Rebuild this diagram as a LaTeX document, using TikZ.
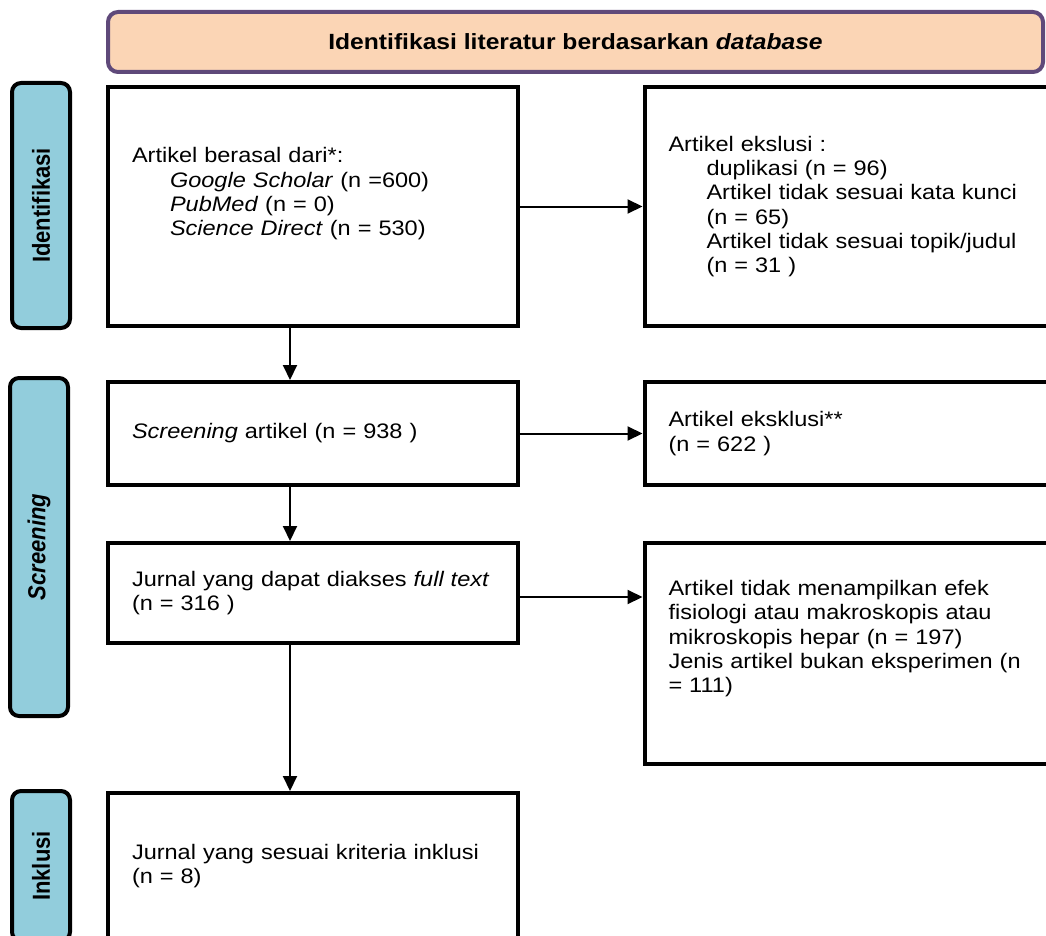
\documentclass[tikz,border=0pt]{standalone}
\usepackage{fontspec}
\setmainfont{Liberation Sans}[FakeStretch=1.12]
\newfontfamily\sidefont{Liberation Sans}
\usetikzlibrary{arrows.meta}

\definecolor{headfill}{HTML}{FBD5B5}
\definecolor{headline}{HTML}{5F497A}
\definecolor{sidefill}{HTML}{92CDDC}

\newcommand{\boxfont}{\fontsize{21}{24.2}\selectfont}
\newcommand{\lowpad}[1]{\rule[-#1]{0pt}{#1}}
\newcommand{\ind}{\hspace*{38pt}}
\newcommand{\sidetext}[1]{\scalebox{1}[1.12]{#1}}

\begin{document}
\begin{tikzpicture}[
  x=1pt, y=-1pt,
  box/.style={
      rectangle,
      draw,
      line width=4pt,
      align=left,
      inner xsep=24pt,
      text width=362pt,
      font=\boxfont,
      fill=white
  },
  exclbox/.style={
      box,
      text width=378pt
  },
  side/.style={
      rectangle,
      draw,
      line width=4pt,
      rounded corners=9pt,
      fill=sidefill,
      rotate=90,
      minimum height=58pt,
      inner sep=0pt,
      font=\sidefont\fontsize{22}{26}\selectfont\bfseries
  },
  head/.style={
      rectangle,
      draw=headline,
      line width=4pt,
      rounded corners=10pt,
      fill=headfill,
      minimum width=935pt,
      minimum height=60pt,
      font=\fontsize{22}{26}\selectfont\bfseries
  },
  arrow/.style={
      -{Triangle[length=15pt,width=14pt]},
      line width=2pt
  }
]

\clip (0,0) rectangle (1046,936);

% ==================================================
% Header
% ==================================================

\node[head] (head) at (575.5,42)
      {Identifikasi literatur berdasarkan \textit{database}};

% ==================================================
% Side labels
% ==================================================

\node[side, minimum width=245pt] (sideid) at (41,205.5)
      {\sidetext{Identifikasi}};

\node[side, minimum width=338pt] (sidescr) at (39,547)
      {\sidetext{\textit{Screening}}};

\node[side, minimum width=150pt] (sideinc) at (41,866)
      {\sidetext{Inklusi}};

% ==================================================
% Main column
% ==================================================

\node[box, minimum height=239pt] (src) at (313,206.5)
      {Artikel berasal dari*:\\
       \ind\textit{Google Scholar} (n =600)\\
       \ind\textit{PubMed} (n = 0)\\
       \ind\textit{Science Direct} (n = 530)\lowpad{30pt}};

\node[box, minimum height=103pt] (scr) at (313,433.5)
      {\textit{Screening} artikel (n = 938 )};

\node[box, minimum height=100pt] (full) at (313,593)
      {Jurnal yang dapat diakses \textit{full text}\\
       (n = 316 )};

\node[box, minimum height=146pt] (inc) at (313,866)
      {Jurnal yang sesuai kriteria inklusi\\
       (n = 8)};

% ==================================================
% Exclusions
% ==================================================

\node[exclbox, minimum height=239pt] (exclA) at (857.5,206.5)
      {Artikel ekslusi :\\
       \ind duplikasi (n = 96)\\
       \ind Artikel tidak sesuai kata kunci\\
       \ind (n = 65)\\
       \ind Artikel tidak sesuai topik/judul\\
       \ind (n = 31 )};

\node[exclbox, minimum height=103pt] (exclB) at (857.5,433.5)
      {Artikel eksklusi**\\
       (n = 622 )};

\node[exclbox, minimum height=221pt] (exclC) at (857.5,653.5)
      {Artikel tidak menampilkan efek\\
       fisiologi atau makroskopis atau\\
       mikroskopis hepar (n = 197)\\
       Jenis artikel bukan eksperimen (n\\
       = 111)\lowpad{34pt}};

% ==================================================
% Flow
% ==================================================

\draw[arrow]
      ([xshift=-23pt]src.south)
      -- ([xshift=-23pt]scr.north);

\draw[arrow]
      ([xshift=-23pt]scr.south)
      -- ([xshift=-23pt]full.north);

\draw[arrow]
      ([xshift=-23pt]full.south)
      -- ([xshift=-23pt]inc.north);

\draw[arrow]
      (src.east)
      -- (exclA.west);

\draw[arrow]
      (scr.east)
      -- (exclB.west);

\draw[arrow]
      ([yshift=-4pt]full.east)
      -- ([yshift=-4pt]full.east -| exclC.west);

\end{tikzpicture}
\end{document}
